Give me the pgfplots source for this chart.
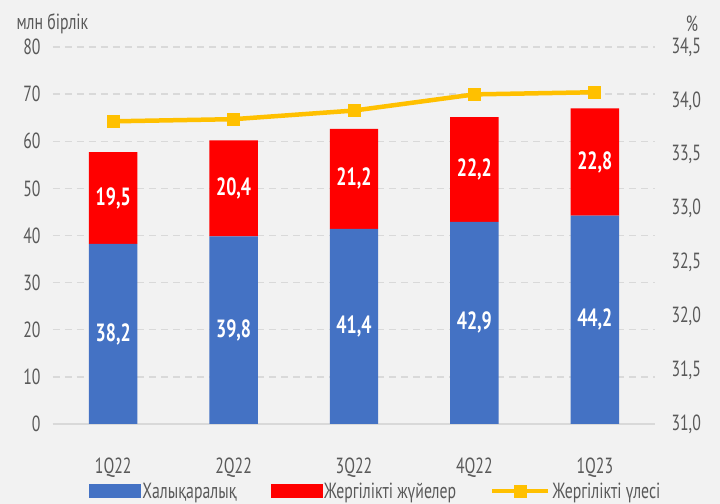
\documentclass[border=0pt]{standalone}
\usepackage{fontspec}
\setmainfont{PT Sans}[FakeStretch=0.72]
\usepackage{pgfplots}
\pgfplotsset{compat=1.18}
\usepackage{pgfplotstable}
\definecolor{intlBlue}{HTML}{4472C4}
\definecolor{locRed}{HTML}{FF0000}
\definecolor{shareGold}{HTML}{FFC000}
\definecolor{txtGray}{HTML}{595959}
\definecolor{gridGray}{HTML}{D9D9D9}
\definecolor{bgGray}{HTML}{F2F2F2}

% quarter, international, local systems, local share (%)
\pgfplotstableread{
x intl loc share
0 38.2 19.5 33.81
1 39.8 20.4 33.83
2 41.4 21.2 33.91
3 42.9 22.2 34.06
4 44.2 22.8 34.08
}\datatable

\pgfplotsset{
  base/.style={
    scale only axis, width=602bp, height=377bp,
    at={(0,0)}, anchor=south west,
    xmin=-0.5, xmax=4.5,
    /pgf/number format/assume math mode=true,
    major tick length=0pt,
    font=\fontsize{22}{22}\selectfont,
    tick label style={text=txtGray},
  },
}

\begin{document}
\begin{tikzpicture}
\fill[bgGray] (-53bp,-80bp) rectangle (667bp,424bp);
\path[use as bounding box] (-53bp,-80bp) rectangle (667bp,424bp);

% stacked bars, left axis
\begin{axis}[base, ybar stacked, bar width=48.4bp,
  ymin=0, ymax=80, ytick={0,10,...,80},
  xtick=data, xticklabels={1Q22,2Q22,3Q22,4Q22,1Q23},
  axis x line*=bottom, axis y line*=left,
  y axis line style={draw=none},
  x axis line style={draw=gridGray, line width=1.2bp, -},
  ymajorgrids, grid style={gridGray, dash pattern=on 7bp off 5bp, line width=1.4bp},
  yticklabel style={xshift=-9bp},
  xticklabel style={yshift=-30bp}]
\addplot[fill=intlBlue, draw=none] table[x=x, y=intl] {\datatable};
\addplot[fill=locRed, draw=none] table[x=x, y=loc] {\datatable};
\end{axis}

% value labels in the middle of each segment
\begin{axis}[base, hide axis, ymin=0, ymax=80,
  nodes near coords={\pgfmathprintnumber[fixed, fixed zerofill, precision=1, use comma, assume math mode=true]{\pgfplotspointmeta}},
  point meta=explicit,
  every node near coord/.style={anchor=center, text=white, font=\fontsize{25}{25}\selectfont\bfseries}]
\addplot[draw=none, mark=none] table[x=x, y expr=\thisrow{intl}/2, meta=intl] {\datatable};
\addplot[draw=none, mark=none] table[x=x, y expr=\thisrow{intl}+\thisrow{loc}/2, meta=loc] {\datatable};
\end{axis}

% share line, right axis
\begin{axis}[base, ymin=31, ymax=34.5, ytick={31,31.5,32,32.5,33,33.5,34,34.5},
  axis y line*=right, axis x line=none, xtick=\empty,
  y axis line style={draw=none},
  yticklabel style={/pgf/number format/.cd, fixed, fixed zerofill, precision=1, use comma, assume math mode=true, /tikz/.cd, xshift=13bp},
  legend columns=3,
  legend style={at={(axis description cs:0.536,-0.178)}, anchor=center, draw=none, fill=none,
    font=\fontsize{22}{22}\selectfont, text=txtGray, inner sep=0pt,
    /tikz/every even column/.append style={column sep=32bp}}]
\addlegendimage{legend image code/.code={\fill[intlBlue] (0bp,-6.5bp) rectangle (51bp,6.5bp);}}
\addlegendentry{Халықаралық}
\addlegendimage{legend image code/.code={\fill[locRed] (0bp,-6.5bp) rectangle (51bp,6.5bp);}}
\addlegendentry{Жергілікті жүйелер}
\addplot[shareGold, line width=4.5bp, mark=square*, mark size=6bp, mark options={solid, line width=1bp},
  legend image code/.code={\draw[shareGold, line width=4.5bp, mark=square*, mark size=6bp, mark options={line width=1bp}, mark repeat=2, mark phase=2] plot coordinates {(0bp,0bp) (28bp,0bp) (56bp,0bp)};}]
  table[x=x, y=share] {\datatable};
\addlegendentry{Жергілікті үлесі}
\end{axis}

\node[anchor=west, text=txtGray, font=\fontsize{22}{22}\selectfont] at (-40bp,400bp) {млн бірлік};
\node[text=txtGray, font=\fontsize{22}{22}\selectfont] at (639bp,400bp) {\%};
\end{tikzpicture}
\end{document}
